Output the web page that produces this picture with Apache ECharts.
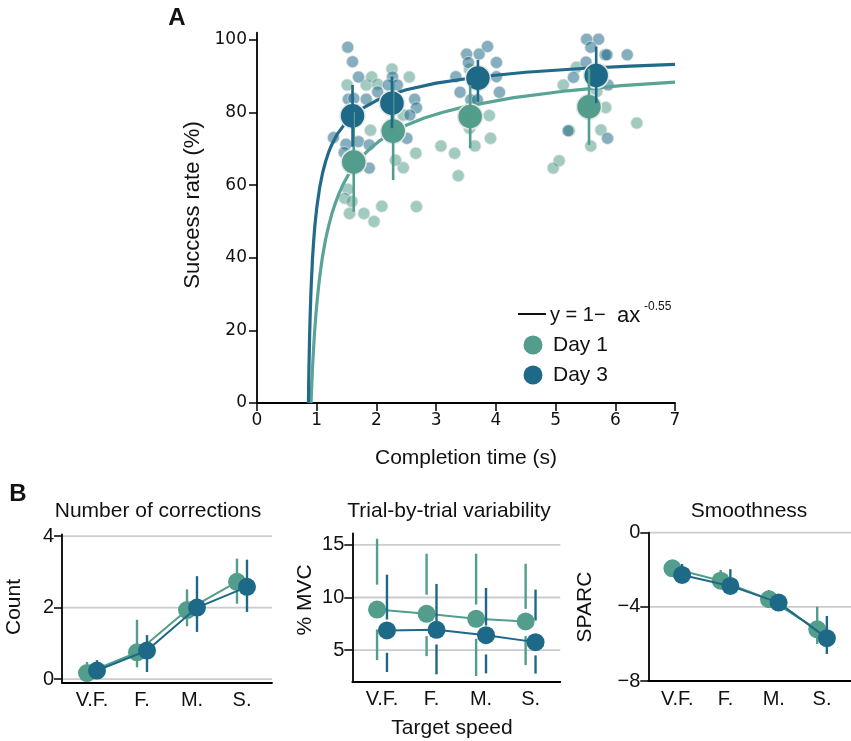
<!DOCTYPE html>
<html>
<head>
<meta charset="utf-8">
<script src="https://cdn.jsdelivr.net/npm/echarts@6/dist/echarts.min.js"></script>
<style>html,body{margin:0;padding:0;background:#fff}#c{width:851px;height:741px}</style>
</head>
<body>
<div id="c"></div>
<script>
// ---------- Panel A data ----------
const xTicksA = [0, 1, 2, 3, 4, 5, 6, 7];
const yTicksA = [0, 20, 40, 60, 80, 100];
const day1Points = [
  [1.51,87.6],[1.83,87.6],[1.92,89.8],[2.02,87.8],[1.90,75.1],[1.52,58.9],[1.47,56.4],[1.59,55.5],
  [1.55,52.2],[1.79,52.2],[1.96,50.0],[2.09,54.2],
  [2.26,92.0],[2.55,89.8],[2.45,79.3],[2.66,68.8],[2.45,64.8],[2.32,66.9],[2.67,54.1],
  [3.56,75.7],[3.89,79.2],[3.91,72.9],[3.65,70.8],[3.08,70.8],[3.31,68.8],[3.37,62.6],[3.56,91.9],
  [5.13,87.6],[5.35,92.5],[5.69,85.8],[5.84,81.4],[6.36,77.1],[5.76,75.2],[5.59,70.8],[5.06,66.7],[4.96,64.7],[5.23,75.0]
];
const day3Points = [
  [1.52,98.0],[1.60,94.0],[1.70,89.8],[1.53,83.7],[1.62,83.9],[1.83,83.7],[1.28,73.1],[1.49,71.3],
  [1.46,69.0],[1.70,72.0],[1.88,71.1],[1.88,64.7],
  [2.02,85.7],[2.27,89.8],[2.20,87.6],[2.35,87.6],[2.64,83.7],[2.67,81.3],[2.51,72.9],[2.56,79.3],
  [3.51,96.1],[3.72,96.1],[3.86,98.2],[3.54,93.8],[4.01,93.8],[3.33,89.9],[4.01,89.9],[3.40,85.6],
  [4.06,85.6],[3.58,83.5],[3.69,83.5],
  [5.52,100.2],[5.72,100.2],[5.59,98.0],[5.83,95.9],[5.86,95.9],[6.20,95.9],[5.51,93.9],[5.30,89.7],
  [5.88,87.6],[5.21,75.0],[5.87,72.9]
];
const day1MeanX = [1.62, 2.28, 3.57, 5.56];
const day1Mean  = [66.4, 74.9, 78.9, 81.6];
const day1Lo    = [52.7, 61.4, 70.2, 71.1];
const day1Hi    = [80.2, 88.4, 87.6, 92.1];
const day3MeanX = [1.60, 2.26, 3.70, 5.68];
const day3Mean  = [79.1, 82.6, 89.5, 90.2];
const day3Lo    = [70.6, 75.7, 83.0, 82.6];
const day3Hi    = [87.6, 89.9, 94.5, 98.2];
// fitted curves
const fitDay1 = [[0.905,0],[0.91,2.2],[0.92,6.2],[0.93,9.7],[0.94,12.8],[0.955,17.1],[0.97,20.8],[0.985,24.0],
  [1.0,26.9],[1.025,31.1],[1.05,34.7],[1.075,37.8],[1.1,40.6],[1.15,45.2],[1.2,48.8],[1.25,51.9],[1.3,54.5],
  [1.375,57.8],[1.45,60.5],[1.55,63.4],[1.64,65.5],[1.75,67.7],[1.9,70.2],[2.05,72.2],[2.28,74.6],[2.5,76.5],
  [2.8,78.5],[3.1,80.0],[3.5,81.7],[4.3,84.1],[5.2,86.0],[6.1,87.4],[7.0,88.4]];
const fitDay3 = [[0.862,0],[0.865,4.9],[0.87,9.8],[0.88,17.7],[0.89,23.9],[0.9,29.0],[0.91,33.2],[0.93,39.9],
  [0.95,44.9],[0.97,49.0],[1.0,53.7],[1.05,59.4],[1.1,63.5],[1.15,66.6],[1.2,69.1],[1.25,71.1],[1.35,74.2],
  [1.5,77.5],[1.6,79.1],[1.75,81.0],[2.0,83.3],[2.2,84.7],[2.5,86.3],[3.0,88.1],[3.7,89.8],[4.5,91.1],
  [5.5,92.2],[6.25,92.8],[7.0,93.3]];

// ---------- Panel B data ----------
const categories = ['V.F.', 'F.', 'M.', 'S.'];
const corrTicks = [0, 2, 4];
const corrDay1 = [0.17, 0.75, 1.93, 2.72];
const corrDay1Lo = [0.0, 0.33, 1.48, 2.11];
const corrDay1Hi = [0.48, 1.66, 2.51, 3.37];
const corrDay3 = [0.24, 0.80, 2.00, 2.58];
const corrDay3Lo = [0.05, 0.20, 1.32, 1.88];
const corrDay3Hi = [0.53, 1.23, 2.88, 3.34];

const mvcTicks = [5, 10, 15];
const mvcDay1 = [8.85, 8.45, 7.97, 7.72];
const mvcDay1Lo = [4.05, 4.43, 2.54, 3.58];
const mvcDay1GapLo = [6.96, 6.33, 6.08, 6.33];
const mvcDay1GapHi = [11.22, 10.27, 9.33, 8.92];
const mvcDay1Hi = [15.58, 14.16, 14.16, 13.21];
const mvcDay3 = [6.87, 6.93, 6.42, 5.76];
const mvcDay3Lo = [2.92, 2.70, 2.79, 2.77];
const mvcDay3GapLo = [4.75, 5.54, 4.59, 4.50];
const mvcDay3GapHi = [7.91, 7.37, 7.34, 7.81];
const mvcDay3Hi = [12.17, 11.29, 10.91, 10.75];

const sparcTicks = [0, -4, -8];
const sparcDay1 = [-1.92, -2.59, -3.59, -5.21];
const sparcDay1Lo = [-2.15, -3.00, -3.90, -6.00];
const sparcDay1Hi = [-1.70, -2.01, -3.09, -3.99];
const sparcDay3 = [-2.28, -2.87, -3.77, -5.69];
const sparcDay3Lo = [-2.60, -3.20, -4.00, -6.54];
const sparcDay3Hi = [-1.69, -1.97, -3.55, -4.49];

// ---------- styles ----------
const C1 = '#529d8c', C3 = '#1d6987';
const C1line = '#5aa495', C3line = '#216a8a';
const C1pt = 'rgba(82,157,140,0.68)', C3pt = 'rgba(29,105,135,0.68)';
const SANS = '"Liberation Sans", Arial, sans-serif';
const DEJA = '"DejaVu Sans", sans-serif';
const DODGE = 0.1;

const chart = echarts.init(document.getElementById('c'), null, {renderer: 'canvas'});

function errSeries(xi, yi, xs, lo, hi, color, width, z) {
  return {
    type: 'custom', xAxisIndex: xi, yAxisIndex: yi, z: z, silent: true,
    data: xs.map((x, i) => [x, lo[i], hi[i]]),
    encode: {x: 0, y: [1, 2]},
    renderItem: (p, api) => {
      const a = api.coord([api.value(0), api.value(1)]);
      const b = api.coord([api.value(0), api.value(2)]);
      return {type: 'line', shape: {x1: a[0], y1: a[1], x2: b[0], y2: b[1]},
        style: {stroke: color, lineWidth: width}};
    }
  };
}
function gapErrSeries(xi, yi, xs, lo, gLo, gHi, hi, color, width, z) {
  return {
    type: 'custom', xAxisIndex: xi, yAxisIndex: yi, z: z, silent: true,
    data: xs.map((x, i) => [x, lo[i], gLo[i], gHi[i], hi[i]]),
    encode: {x: 0, y: [1, 4]},
    renderItem: (p, api) => {
      const x = api.value(0);
      const a = api.coord([x, api.value(1)]), b = api.coord([x, api.value(2)]);
      const c = api.coord([x, api.value(3)]), d = api.coord([x, api.value(4)]);
      return {type: 'group', children: [
        {type: 'line', shape: {x1: a[0], y1: a[1], x2: b[0], y2: b[1]}, style: {stroke: color, lineWidth: width}},
        {type: 'line', shape: {x1: c[0], y1: c[1], x2: d[0], y2: d[1]}, style: {stroke: color, lineWidth: width}}
      ]};
    }
  };
}
function gridSeries(xi, yi, vals, xmin, xmax) {
  return {
    type: 'custom', xAxisIndex: xi, yAxisIndex: yi, z: 0, silent: true,
    data: vals.map(v => [v]),
    encode: {y: 0},
    renderItem: (p, api) => {
      const v = api.value(0);
      const a = api.coord([xmin, v]), b = api.coord([xmax, v]);
      return {type: 'line', shape: {x1: a[0], y1: a[1], x2: b[0], y2: b[1]},
        style: {stroke: '#cccccc', lineWidth: 1.8}};
    }
  };
}

const axisLine = {show: true, onZero: false, lineStyle: {color: '#000', width: 1.8}};
const tickStyle = {lineStyle: {color: '#000', width: 1.5}};
const minus = v => String(v).replace('-', '\u2212');

const dx1 = categories.map((c, i) => i - DODGE);
const dx3 = categories.map((c, i) => i + DODGE);

function bXAxis(gi) {
  return {
    type: 'value', gridIndex: gi, min: -0.6, max: 3.6,
    axisLine: axisLine, axisTick: {show: false}, splitLine: {show: false},
    axisLabel: {customValues: [0, 1, 2, 3], formatter: v => categories[Math.round(v)],
      color: '#111', fontFamily: SANS, fontSize: 20, margin: 8}
  };
}
function bYAxis(gi, min, max, ticks) {
  return {
    type: 'value', gridIndex: gi, min: min, max: max,
    axisLine: axisLine, splitLine: {show: false},
    axisTick: Object.assign({show: true, length: 8, customValues: ticks}, tickStyle),
    axisLabel: {customValues: ticks, formatter: minus, color: '#111', fontFamily: SANS, fontSize: 20, margin: 8}
  };
}
function bLine(xi, yi, xs, ys, color, z) {
  return {
    type: 'line', xAxisIndex: xi, yAxisIndex: yi, z: z, silent: true,
    data: xs.map((x, i) => [x, ys[i]]),
    symbol: 'circle', symbolSize: 18, showSymbol: true,
    itemStyle: {color: color}, lineStyle: {color: color, width: 2}
  };
}
function txt(x, y, text, size, opts) {
  const o = Object.assign({align: 'center', rot: 0, weight: ''}, opts || {});
  return {type: 'text', x: x, y: y, rotation: o.rot,
    style: {text: text, font: (o.weight ? o.weight + ' ' : '') + size + 'px ' + SANS, fill: '#111',
      align: o.align, verticalAlign: 'middle', textAlign: o.align, textVerticalAlign: 'middle'}};
}

const option = {
  animation: false,
  backgroundColor: '#fff',
  grid: [
    {left: 257, top: 32.7, width: 418, height: 370.3},
    {left: 62, top: 534.3, width: 210, height: 148.4},
    {left: 352.3, top: 533.3, width: 208, height: 148.4},
    {left: 648.3, top: 532.7, width: 210, height: 148.3}
  ],
  xAxis: [
    {type: 'value', gridIndex: 0, min: 0, max: 7, interval: 1,
      axisLine: axisLine, splitLine: {show: false},
      axisTick: Object.assign({show: true, length: 8, customValues: xTicksA}, tickStyle),
      axisLabel: {customValues: xTicksA, color: '#111', fontFamily: DEJA, fontSize: 17, margin: 9}},
    bXAxis(1), bXAxis(2), bXAxis(3)
  ],
  yAxis: [
    {type: 'value', gridIndex: 0, min: 0, max: 102,
      axisLine: axisLine, splitLine: {show: false},
      axisTick: Object.assign({show: true, length: 8, customValues: yTicksA}, tickStyle),
      axisLabel: {customValues: yTicksA, color: '#111', fontFamily: DEJA, fontSize: 17, margin: 10}},
    bYAxis(1, -0.1, 4.05, corrTicks),
    bYAxis(2, 2, 16.1, mvcTicks),
    bYAxis(3, -8, 0, sparcTicks)
  ],
  series: [
    // Panel A
    {type: 'scatter', xAxisIndex: 0, yAxisIndex: 0, z: 1, silent: true, data: day1Points,
      symbolSize: 12, itemStyle: {color: C1pt, borderColor: 'rgba(225,225,225,0.9)', borderWidth: 1}},
    {type: 'scatter', xAxisIndex: 0, yAxisIndex: 0, z: 1, silent: true, data: day3Points,
      symbolSize: 12, itemStyle: {color: C3pt, borderColor: 'rgba(225,225,225,0.9)', borderWidth: 1}},
    {type: 'line', xAxisIndex: 0, yAxisIndex: 0, z: 2, silent: true, data: fitDay1, showSymbol: false,
      smooth: false, lineStyle: {color: C1line, width: 3.2, join: 'round'}},
    {type: 'line', xAxisIndex: 0, yAxisIndex: 0, z: 2, silent: true, data: fitDay3, showSymbol: false,
      smooth: false, lineStyle: {color: C3line, width: 3.2, join: 'round'}},
    {type: 'scatter', xAxisIndex: 0, yAxisIndex: 0, z: 3, silent: true,
      data: day1MeanX.map((x, i) => [x, day1Mean[i]]), symbolSize: 25,
      itemStyle: {color: C1, borderColor: '#e6e6e6', borderWidth: 1.5, opacity: 1}},
    {type: 'scatter', xAxisIndex: 0, yAxisIndex: 0, z: 3, silent: true,
      data: day3MeanX.map((x, i) => [x, day3Mean[i]]), symbolSize: 25,
      itemStyle: {color: C3, borderColor: '#e6e6e6', borderWidth: 1.5, opacity: 1}},
    errSeries(0, 0, day1MeanX, day1Lo, day1Hi, C1, 2.6, 4),
    errSeries(0, 0, day3MeanX, day3Lo, day3Hi, C3, 2.6, 4),
    // Panel B gridlines
    gridSeries(1, 1, corrTicks, -0.6, 3.6),
    gridSeries(2, 2, mvcTicks, -0.6, 3.6),
    gridSeries(3, 3, sparcTicks, -0.6, 3.6),
    // B1
    errSeries(1, 1, dx1, corrDay1Lo, corrDay1Hi, C1, 2.4, 2),
    bLine(1, 1, dx1, corrDay1, C1, 3),
    errSeries(1, 1, dx3, corrDay3Lo, corrDay3Hi, C3, 2.4, 4),
    bLine(1, 1, dx3, corrDay3, C3, 5),
    // B2
    gapErrSeries(2, 2, dx1, mvcDay1Lo, mvcDay1GapLo, mvcDay1GapHi, mvcDay1Hi, C1, 2.4, 2),
    bLine(2, 2, dx1, mvcDay1, C1, 3),
    gapErrSeries(2, 2, dx3, mvcDay3Lo, mvcDay3GapLo, mvcDay3GapHi, mvcDay3Hi, C3, 2.4, 4),
    bLine(2, 2, dx3, mvcDay3, C3, 5),
    // B3
    errSeries(3, 3, dx1, sparcDay1Lo, sparcDay1Hi, C1, 2.4, 2),
    bLine(3, 3, dx1, sparcDay1, C1, 3),
    errSeries(3, 3, dx3, sparcDay3Lo, sparcDay3Hi, C3, 2.4, 4),
    bLine(3, 3, dx3, sparcDay3, C3, 5)
  ],
  graphic: [
    txt(177, 18, 'A', 24, {weight: 'bold'}),
    txt(18, 494, 'B', 24, {weight: 'bold'}),
    txt(193, 205, 'Success rate (%)', 22, {rot: Math.PI / 2}),
    txt(466, 458, 'Completion time (s)', 21),
    // legend
    {type: 'line', shape: {x1: 518, y1: 314, x2: 546, y2: 314}, style: {stroke: '#111', lineWidth: 2}},
    txt(550, 315, 'y = 1\u2212', 20, {align: 'left'}),
    txt(617, 316, 'ax', 22, {align: 'left'}),
    txt(644, 307, '-0.55', 12, {align: 'left'}),
    {type: 'circle', shape: {cx: 533, cy: 345, r: 9.5}, style: {fill: C1}},
    txt(553, 345, 'Day 1', 21, {align: 'left'}),
    {type: 'circle', shape: {cx: 533, cy: 375, r: 9.5}, style: {fill: C3}},
    txt(553, 375, 'Day 3', 21, {align: 'left'}),
    // panel B titles
    txt(158, 511, 'Number of corrections', 21),
    txt(449, 511, 'Trial-by-trial variability', 21),
    txt(749, 511, 'Smoothness', 21),
    txt(14, 607, 'Count', 21, {rot: Math.PI / 2}),
    txt(305, 600, '% MVC', 21, {rot: Math.PI / 2}),
    txt(585, 607, 'SPARC', 21, {rot: Math.PI / 2}),
    txt(452, 728, 'Target speed', 21)
  ]
};
chart.setOption(option);
</script>
</body>
</html>
